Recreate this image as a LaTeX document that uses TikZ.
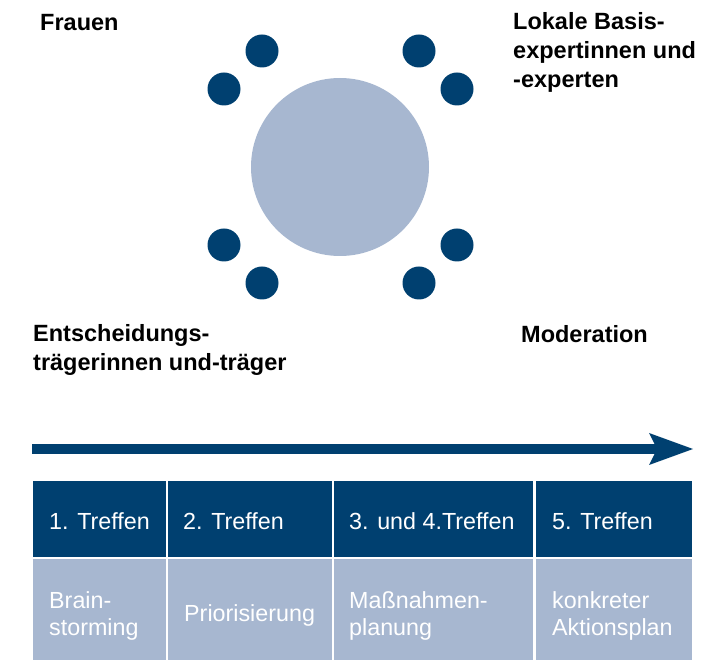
\documentclass[tikz,border=0pt]{standalone}
\usepackage{fontspec}
\setmainfont{Liberation Sans}
\usetikzlibrary{positioning,arrows.meta}
\definecolor{darkblue}{RGB}{0,64,112}
\definecolor{lightblue}{RGB}{167,183,208}
\tikzset{
  seat/.style    = {circle, fill=darkblue, minimum size=33pt, inner sep=0pt},
  desk/.style    = {circle, fill=lightblue, minimum size=178pt, inner sep=0pt},
  group/.style   = {font=\fontsize{23.5}{29}\selectfont\bfseries, align=left,
                    anchor=base west, inner sep=0pt},
  meeting/.style = {anchor=north west, fill=darkblue, minimum height=76pt, inner sep=0pt},
  task/.style    = {anchor=north west, fill=lightblue, minimum height=101pt, inner sep=0pt},
  celltext/.style = {anchor=west, inner sep=0pt, align=left, text=white,
                    font=\fontsize{23.3}{27}\selectfont},
  timeline/.style = {-{Stealth[length=44pt, width=32pt, inset=8pt, line width=0pt]},
                    line width=10.5pt, draw=darkblue}
}

\begin{document}
\begin{tikzpicture}[x=1pt, y=-1pt]
      \useasboundingbox (0,0) rectangle (724,660);
      % round table
      \node[desk] (T) at (340,167) {};
      \node[seat] (S1) at (262,51)  {};
      \node[seat] (S2) at (224,89)  {};
      \node[seat] (S3) at (419,51)  {};
      \node[seat] (S4) at (457,89)  {};
      \node[seat] (S5) at (224,245) {};
      \node[seat] (S6) at (262,283) {};
      \node[seat] (S7) at (419,283) {};
      \node[seat] (S8) at (457,245) {};
      % groups (placed at the baseline of the last line)
      \node[group] (F) at (40,31)  {Frauen};
      \node[group] (L) at (513,88) {Lokale Basis-\\expertinnen und\\-experten};
      \node[group] (E) at (33,371) {Entscheidungs-\\trägerinnen und-träger};
      \node[group] (M) at (521,343) {Moderation};
      % time line
      \coordinate (start) at (32,449);
      \coordinate (end) at (693,449);
      \draw[timeline] (start) -- (end);
      % meetings
      \node[meeting, minimum width=133pt] (m1) at (33,481)  {};
      \node[meeting, minimum width=164pt] (m2) at (168,481) {};
      \node[meeting, minimum width=199pt] (m3) at (334,481) {};
      \node[meeting, minimum width=156pt] (m4) at (536,481) {};
      \node[task, minimum width=133pt] (t1) at (33,559)  {};
      \node[task, minimum width=164pt] (t2) at (168,559) {};
      \node[task, minimum width=199pt] (t3) at (334,559) {};
      \node[task, minimum width=156pt] (t4) at (536,559) {};
      \node[celltext] (m1 text) at ([xshift=16pt, yshift=-1.5pt]m1.west) {1. Treffen};
      \node[celltext] (m2 text) at ([xshift=15pt, yshift=-1.5pt]m2.west) {2. Treffen};
      \node[celltext] (m3 text) at ([xshift=15pt, yshift=-1.5pt]m3.west) {3. und 4.Treffen};
      \node[celltext] (m4 text) at ([xshift=16pt, yshift=-1.5pt]m4.west) {5. Treffen};
      \node[celltext] (t1 text) at ([xshift=16pt, yshift=-6pt]t1.west) {Brain-\\storming};
      \node[celltext] (t2 text) at ([xshift=16pt, yshift=-6pt]t2.west) {Priorisierung};
      \node[celltext] (t3 text) at ([xshift=15pt, yshift=-6pt]t3.west) {Maßnahmen-\\planung};
      \node[celltext] (t4 text) at ([xshift=16pt, yshift=-6pt]t4.west) {konkreter\\Aktionsplan};
    \end{tikzpicture}
\end{document}
